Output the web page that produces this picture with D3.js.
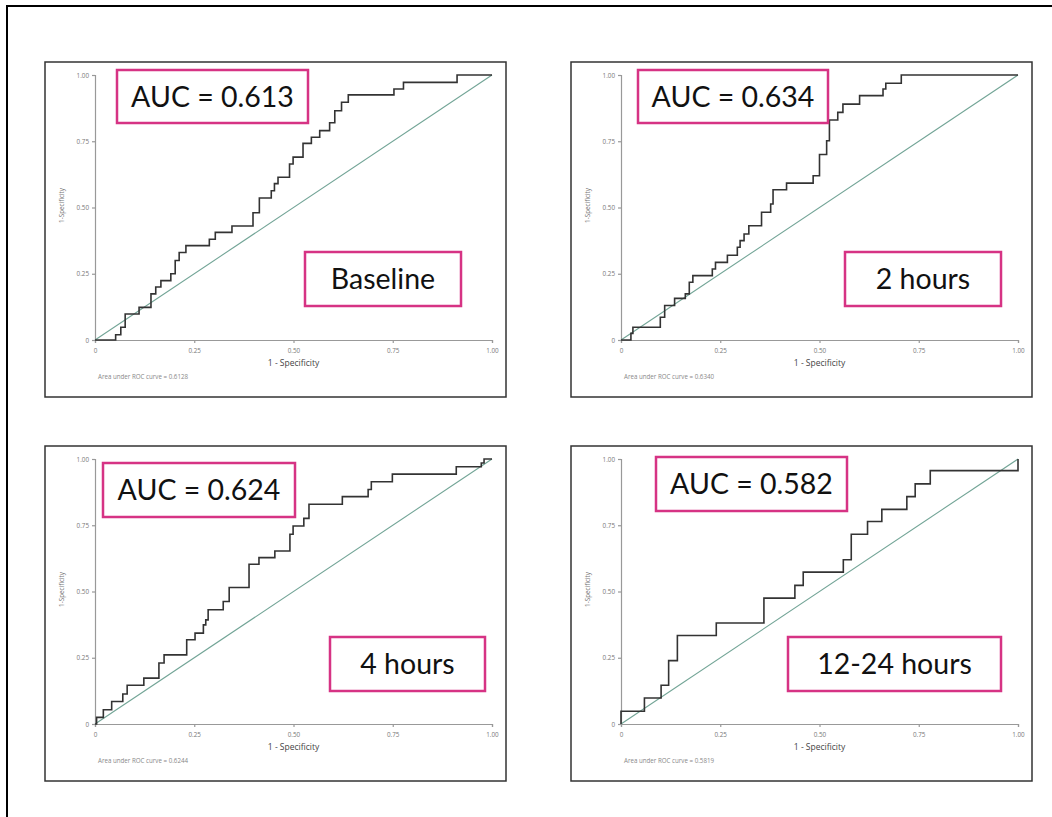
<!DOCTYPE html>
<html>
<head>
<meta charset="utf-8">
<script src="https://cdn.jsdelivr.net/npm/d3@7"></script>
<style>
  body { margin: 0; background: #fff; }
  svg { display: block; }
</style>
</head>
<body>
<div id="chart"></div>
<script>
var width = 1052
var height = 817

// values
var panelNames = ["Baseline", "2 hours", "4 hours", "12-24 hours"]
var aucShort = ["AUC = 0.613", "AUC = 0.634", "AUC = 0.624", "AUC = 0.582"]
var aucFull = ["0.6128", "0.6340", "0.6244", "0.5819"]
var tickValues = [0, 0.25, 0.5, 0.75, 1]
var tickLabels = ["0", "0.25", "0.50", "0.75", "1.00"]

var baselineFpr = [0, 0.052, 0.065, 0.076, 0.111, 0.141, 0.153, 0.166, 0.191, 0.202, 0.212, 0.229, 0.288, 0.303, 0.345, 0.398, 0.414, 0.444, 0.452, 0.461, 0.49, 0.499, 0.524, 0.545, 0.566, 0.591, 0.604, 0.621, 0.638, 0.753, 0.777, 0.912, 1]
var baselineTpr = [0, 0.02, 0.048, 0.098, 0.123, 0.174, 0.2, 0.224, 0.25, 0.3, 0.33, 0.356, 0.38, 0.406, 0.43, 0.48, 0.536, 0.563, 0.59, 0.614, 0.664, 0.69, 0.742, 0.765, 0.79, 0.82, 0.865, 0.897, 0.925, 0.947, 0.972, 1, 1]

var twoHourFpr = [0, 0.025, 0.03, 0.099, 0.11, 0.135, 0.162, 0.172, 0.181, 0.23, 0.238, 0.268, 0.293, 0.3, 0.31, 0.322, 0.354, 0.377, 0.383, 0.417, 0.484, 0.5, 0.518, 0.525, 0.546, 0.559, 0.601, 0.66, 0.667, 0.706, 1]
var twoHourTpr = [0, 0.025, 0.048, 0.086, 0.13, 0.157, 0.174, 0.218, 0.243, 0.268, 0.293, 0.32, 0.35, 0.375, 0.4, 0.431, 0.482, 0.513, 0.567, 0.592, 0.62, 0.7, 0.752, 0.83, 0.859, 0.89, 0.922, 0.947, 0.969, 1, 1]

var fourHourFpr = [0, 0.004, 0.021, 0.042, 0.07, 0.081, 0.123, 0.161, 0.174, 0.231, 0.252, 0.273, 0.279, 0.285, 0.323, 0.338, 0.388, 0.413, 0.453, 0.491, 0.499, 0.526, 0.539, 0.623, 0.688, 0.696, 0.749, 0.91, 0.973, 0.98, 1]
var fourHourTpr = [0, 0.025, 0.054, 0.085, 0.113, 0.146, 0.173, 0.23, 0.261, 0.318, 0.343, 0.374, 0.393, 0.431, 0.462, 0.515, 0.603, 0.628, 0.653, 0.716, 0.747, 0.776, 0.829, 0.858, 0.885, 0.914, 0.943, 0.971, 0.985, 1, 1]

var lateFpr = [0, 0, 0.059, 0.101, 0.12, 0.142, 0.24, 0.36, 0.438, 0.459, 0.56, 0.58, 0.621, 0.657, 0.72, 0.741, 0.779, 1]
var lateTpr = [0, 0.048, 0.098, 0.146, 0.239, 0.334, 0.381, 0.475, 0.523, 0.573, 0.62, 0.716, 0.764, 0.81, 0.858, 0.906, 0.956, 1]

var curves = [
    [baselineFpr, baselineTpr],
    [twoHourFpr, twoHourTpr],
    [fourHourFpr, fourHourTpr],
    [lateFpr, lateTpr]
]

// layout of the four framed panels and the pink boxes
var frames = [[45, 62], [571, 62], [45, 446], [571, 446]]
var frameW = 461, frameH = 335
var aucBoxes = [[117, 70, 191, 53], [638, 70, 190, 53], [103, 463, 192, 54], [656, 457, 191, 54]]
var nameBoxes = [[305, 252, 156, 54], [845, 252, 156, 54], [330, 637, 155, 54], [788, 637, 213, 54]]

var svg = d3.select("#chart")
    .append("svg")
        .attr("width", width)
        .attr("height", height)

// outer frame (left and top edges visible)
svg.append("path")
    .attr("d", "M7," + height + "V6H" + width)
    .attr("fill", "none")
    .attr("stroke", "#000")
    .attr("stroke-width", 2)

frames.forEach(function(f, i){
    var g = svg.append("g")

    g.append("rect")
        .attr("x", f[0]).attr("y", f[1])
        .attr("width", frameW).attr("height", frameH)
        .attr("fill", "#fff")
        .attr("stroke", "#333")
        .attr("stroke-width", 1.5)

    var x = d3.scaleLinear().domain([0, 1]).range([f[0] + 50, f[0] + 447])
    var y = d3.scaleLinear().domain([0, 1]).range([f[1] + 278, f[1] + 13])

    var xAxis = g.append("g")
        .attr("transform", "translate(0," + y(0) + ")")
        .call(d3.axisBottom(x).tickValues(tickValues)
            .tickFormat(function(d, j){ return tickLabels[j] }).tickSize(3))
    var yAxis = g.append("g")
        .attr("transform", "translate(" + x(0) + ",0)")
        .call(d3.axisLeft(y).tickValues(tickValues)
            .tickFormat(function(d, j){ return tickLabels[j] }).tickSize(3))

    g.selectAll(".domain, .tick line")
        .attr("stroke", "#999")
        .attr("stroke-width", 1.2)
    g.selectAll(".tick text")
        .attr("font-family", "Open Sans, sans-serif")
        .attr("font-size", 6.3)
        .attr("fill", "#777")
    xAxis.selectAll(".tick text").attr("dy", "1.1em")

    // reference diagonal
    g.append("line")
        .attr("x1", x(0)).attr("y1", y(0))
        .attr("x2", x(1)).attr("y2", y(1))
        .attr("stroke", "#72a496")
        .attr("stroke-width", 1.1)

    // ROC step curve
    var pts = curves[i][0].map(function(v, k){ return [v, curves[i][1][k]] })
    var line = d3.line()
        .x(function(d){ return x(d[0]) })
        .y(function(d){ return y(d[1]) })
        .curve(d3.curveStepAfter)
    g.append("path")
        .attr("d", line(pts))
        .attr("fill", "none")
        .attr("stroke", "#333")
        .attr("stroke-width", 1.6)

    // axis titles
    g.append("text")
        .attr("x", (x(0) + x(1)) / 2).attr("y", y(0) + 26)
        .attr("text-anchor", "middle")
        .attr("font-family", "Open Sans, sans-serif")
        .attr("font-size", 8.5)
        .attr("fill", "#444")
        .text("1 - Specificity")
    g.append("text")
        .attr("transform", "translate(" + (f[0] + 19) + "," + (y(0.5) - 2) + ") rotate(-90)")
        .attr("text-anchor", "middle")
        .attr("font-family", "Open Sans, sans-serif")
        .attr("font-size", 6.3)
        .attr("fill", "#777")
        .text("1-Specificity")
    g.append("text")
        .attr("x", x(0) + 3).attr("y", y(0) + 39)
        .attr("font-family", "Open Sans, sans-serif")
        .attr("font-size", 6.2)
        .attr("fill", "#888")
        .text("Area under ROC curve = " + aucFull[i])

    // pink annotation boxes
    var labels = [[aucBoxes[i], aucShort[i]], [nameBoxes[i], panelNames[i]]]
    labels.forEach(function(b){
        var r = b[0]
        g.append("rect")
            .attr("x", r[0]).attr("y", r[1])
            .attr("width", r[2]).attr("height", r[3])
            .attr("fill", "#fff")
            .attr("stroke", "#d63384")
            .attr("stroke-width", 2.5)
        g.append("text")
            .attr("x", r[0] + r[2] / 2).attr("y", r[1] + r[3] / 2 + 10)
            .attr("text-anchor", "middle")
            .attr("font-family", "Lato, sans-serif")
            .attr("font-size", 28.5)
            .attr("fill", "#111")
            .text(b[1])
    })
})
</script>
</body>
</html>
